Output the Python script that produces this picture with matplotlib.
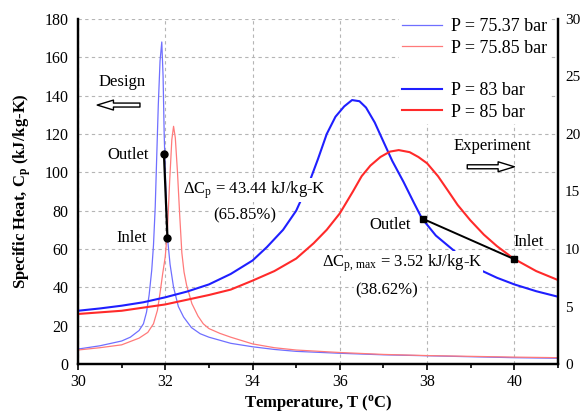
import matplotlib
matplotlib.use("Agg")
import matplotlib.pyplot as plt
from matplotlib.ticker import MultipleLocator
from matplotlib.lines import Line2D

plt.rcParams['font.family'] = ['Liberation Serif', 'DejaVu Serif']
plt.rcParams['mathtext.fontset'] = 'custom'
plt.rcParams['mathtext.rm'] = 'Liberation Serif'
plt.rcParams['mathtext.it'] = 'Liberation Serif:italic'
plt.rcParams['mathtext.bf'] = 'Liberation Serif:bold'

# ---- design curves (left axis, kJ/kg-K) ----
t_7537 = [30.0, 30.5, 31.0, 31.2, 31.4, 31.5, 31.57, 31.63, 31.69, 31.73, 31.77, 31.80,
          31.84, 31.88, 31.92, 31.95, 31.975, 32.0, 32.05, 32.11, 32.19, 32.3, 32.42, 32.6,
          32.8, 33.0, 33.5, 34.0, 34.5, 35.0, 36.0, 37.0, 38.0, 39.0, 40.0, 41.0]
cp_7537 = [7.8, 9.5, 12.0, 14.0, 17.5, 21, 27, 36, 49, 62, 82, 105,
           135, 158, 168, 150, 120, 100, 66, 52, 40, 30, 24.5, 19,
           15.8, 14.0, 10.8, 9.0, 7.6, 6.6, 5.6, 4.8, 4.3, 3.8, 3.3, 3.0]

t_7585 = [30.0, 30.5, 31.0, 31.4, 31.6, 31.73, 31.82, 31.88, 31.94, 32.0, 32.05, 32.1,
          32.15, 32.19, 32.23, 32.28, 32.33, 32.38, 32.43, 32.49, 32.61, 32.75, 32.87, 33.0,
          33.25, 33.5, 34.0, 34.5, 35.0, 36.0, 37.0, 38.0, 39.0, 40.0, 41.0]
cp_7585 = [7.3, 8.5, 10, 13.5, 16.5, 21, 28, 37, 47, 56, 70, 95,
           117, 124, 118, 100, 78, 58, 48, 41, 31.5, 25, 21, 18.5,
           16, 14, 10.5, 8.5, 7.3, 6.0, 5.0, 4.4, 4.0, 3.6, 3.3]

# ---- experiment curves (right axis, kJ/kg-K) ----
t_83 = [30, 30.5, 31, 31.5, 32, 32.5, 33, 33.5, 34, 34.33, 34.7, 35.0, 35.32, 35.5, 35.7,
        35.9, 36.1, 36.28, 36.45, 36.6, 36.8, 37.0, 37.2, 37.46, 37.7, 37.88, 38.2, 38.69,
        39.0, 39.22, 39.6, 40.0, 40.5, 41.0]
cp_83 = [4.63, 4.83, 5.07, 5.37, 5.8, 6.3, 6.92, 7.83, 9.0, 10.17, 11.67, 13.33, 16.0, 17.83,
         20.0, 21.5, 22.4, 22.95, 22.85, 22.3, 21.0, 19.33, 17.67, 15.83, 14.0, 12.67, 11.17,
         9.62, 8.75, 8.17, 7.5, 6.92, 6.33, 5.85]

t_85 = [30, 31, 32, 33, 33.5, 34.0, 34.5, 35.0, 35.4, 35.7, 36.0, 36.3, 36.5, 36.7, 36.93,
        37.15, 37.35, 37.6, 37.8, 38.0, 38.25, 38.46, 38.7, 38.99, 39.3, 39.6, 39.98, 40.5, 41.0]
cp_85 = [4.35, 4.63, 5.18, 6.0, 6.47, 7.25, 8.08, 9.17, 10.5, 11.67, 13.1, 15.0, 16.33, 17.25,
         18.0, 18.47, 18.6, 18.42, 18.0, 17.45, 16.33, 15.17, 13.83, 12.5, 11.25, 10.25, 9.17,
         8.08, 7.3]

# inlet / outlet points
design_T = [31.97, 32.05]          # outlet, inlet
design_cp = [109.41, 65.97]
exp_T = [37.9, 40.0]               # outlet, inlet
exp_cp = [12.63, 9.11]

legend_labels = ['P = 75.37 bar', 'P = 75.85 bar', 'P = 83 bar', 'P = 85 bar']

fig = plt.figure(figsize=(5.82, 4.2), dpi=100)
ax = fig.add_axes([0.134, 0.1333, 0.8248, 0.8215])
ax2 = ax.twinx()

thin_blue = '#6f6fff'
thin_red = '#ff7a7a'
thick_blue = '#1f1fff'
thick_red = '#ff2a2a'

l1, = ax.plot(t_7537, cp_7537, color=thin_blue, lw=0.9)
l2, = ax.plot(t_7585, cp_7585, color=thin_red, lw=0.9)
ax.plot(design_T, design_cp, color='black', lw=1.6, marker='o', ms=5, zorder=5)

l3, = ax2.plot(t_83, cp_83, color=thick_blue, lw=1.5)
l4, = ax2.plot(t_85, cp_85, color=thick_red, lw=1.5)
ax2.plot(exp_T, exp_cp, color='black', lw=1.4, marker='s', ms=5, zorder=5)

ax.set_xlim(30, 41)
ax.set_ylim(0, 180)
ax2.set_ylim(0, 30)
ax.xaxis.set_major_locator(MultipleLocator(2))
ax.xaxis.set_minor_locator(MultipleLocator(1))
ax.yaxis.set_major_locator(MultipleLocator(20))
ax2.yaxis.set_major_locator(MultipleLocator(5))

ax.grid(True, which='major', color='#b5b5b5', linestyle=(0, (3, 3)), lw=0.8)
ax.set_axisbelow(True)

for a in (ax, ax2):
    for s in a.spines.values():
        s.set_linewidth(1.6)
    a.spines['top'].set_visible(False)

ax.tick_params(axis='x', which='major', direction='out', length=4, width=1.2, labelsize=11.5, pad=3)
ax.tick_params(axis='x', which='minor', direction='out', length=3, width=1.2)
ax.tick_params(axis='y', length=0, labelsize=11.5, pad=7)
ax2.tick_params(axis='y', length=0, labelsize=11, pad=5)

ax.set_xlabel('Temperature, T ($^\\mathregular{o}$C)', fontsize=12, fontweight='bold', labelpad=2)
ax.set_ylabel('Specific Heat, C$_\\mathregular{p}$ (kJ/kg-K)', fontsize=12, fontweight='bold', labelpad=8)

blank = Line2D([], [], color='none')
leg = ax2.legend([l1, l2, blank, l3, l4],
                 [legend_labels[0], legend_labels[1], ' ', legend_labels[2], legend_labels[3]],
                 loc='upper right', bbox_to_anchor=(0.985, 1.012), fontsize=13, frameon=True,
                 handlelength=2.2, handletextpad=0.5, labelspacing=0.24, borderpad=0.2,
                 borderaxespad=0.0)
leg.get_frame().set_facecolor('white')
leg.get_frame().set_edgecolor('none')
leg.get_frame().set_alpha(1)
leg.set_zorder(20)

bb = dict(facecolor='white', edgecolor='none', pad=1.0)
tk = dict(fontsize=12, zorder=15, transform=ax.transData)
ax2.text(31.0, 147.3, 'Design', ha='center', va='center', **tk)
ax2.text(31.14, 109.0, 'Outlet', ha='center', va='center', **tk)
ax2.text(31.22, 65.6, 'Inlet', ha='center', va='center', **tk)
ax2.text(32.41, 90.8, '\u0394C$_\\mathregular{p}$ = 43.44 kJ/kg-K', ha='left', va='center', bbox=bb, **tk)
ax2.text(33.83, 77.7, '(65.85%)', ha='center', va='center', bbox=bb, **tk)
ax2.text(39.49, 113.9, 'Experiment', ha='center', va='center', **tk)
ax2.text(37.16, 72.5, 'Outlet', ha='center', va='center', **tk)
ax2.text(40.33, 63.5, 'Inlet', ha='center', va='center', **tk)
ax2.text(37.42, 52.5, '\u0394C$_\\mathregular{p,\\,max}$ = 3.52 kJ/kg-K', ha='center', va='center', bbox=bb, **tk)
ax2.text(37.08, 38.6, '(38.62%)', ha='center', va='center', bbox=bb, **tk)

arrow = dict(arrowstyle='simple,head_length=0.9,head_width=0.55,tail_width=0.22',
             fc='white', ec='black', lw=1.0, shrinkA=0, shrinkB=0)
ax2.annotate('', xy=(30.44, 135.1), xytext=(31.42, 135.1), xycoords=ax.transData,
             textcoords=ax.transData, arrowprops=arrow, fontsize=13, zorder=15)
ax2.annotate('', xy=(40.0, 102.9), xytext=(38.92, 102.9), xycoords=ax.transData,
             textcoords=ax.transData, arrowprops=arrow, fontsize=13, zorder=15)

fig.savefig('out.png', dpi=100)
